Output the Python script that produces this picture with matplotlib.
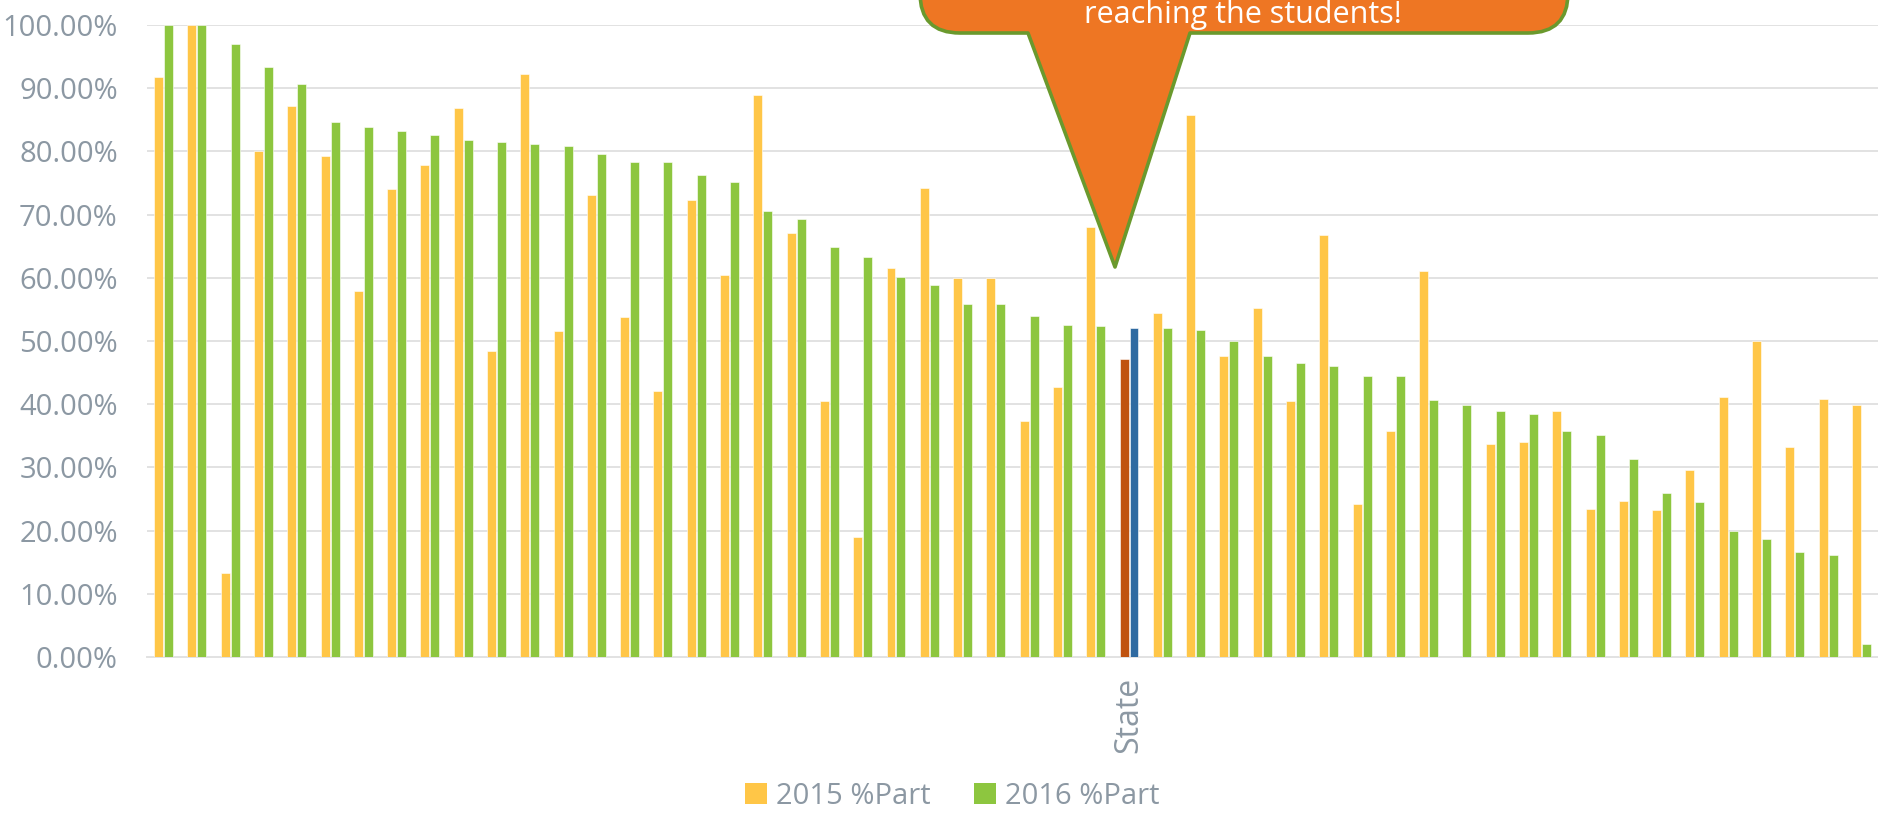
import matplotlib
matplotlib.use("Agg")
import matplotlib.pyplot as plt
from matplotlib.path import Path
from matplotlib.patches import PathPatch, Patch
from matplotlib.ticker import FuncFormatter
import numpy as np

# category labels (only the state average is named)
categories = [""] * 29 + ["State"] + [""] * 22

part_2015 = [91.7, 100, 13.3, 80.1, 87.2, 79.2, 57.9, 74.0, 77.8, 86.9,
             48.4, 92.3, 51.6, 73.1, 53.8, 42.1, 72.3, 60.5, 89.0, 67.1,
             40.5, 19.0, 61.6, 74.2, 60.0, 60.0, 37.4, 42.7, 68.0, 47.2,
             54.5, 85.7, 47.6, 55.3, 40.5, 66.7, 24.2, 35.7, 61.1, 0.0,
             33.7, 34.0, 39.0, 23.4, 24.7, 23.2, 29.6, 41.2, 50.0, 33.3,
             40.8, 39.9]

part_2016 = [100, 100, 97.0, 93.3, 90.6, 84.6, 83.9, 83.3, 82.6, 81.8,
             81.5, 81.2, 80.9, 79.6, 78.3, 78.3, 76.2, 75.1, 70.6, 69.3,
             64.9, 63.3, 60.2, 58.8, 55.9, 55.9, 54.0, 52.6, 52.4, 52.1,
             52.0, 51.8, 50.0, 47.7, 46.5, 46.1, 44.5, 44.4, 40.6, 39.9,
             39.0, 38.4, 35.8, 35.2, 31.4, 25.9, 24.5, 20.0, 18.6, 16.6,
             16.2, 2.1]

series_names = ["2015 %Part", "2016 %Part"]
callout_text = "reaching the students!"

YELLOW = "#FFC647"
GREEN = "#8DC63F"
STATE_2015 = "#C0530F"
STATE_2016 = "#2F6AA1"
GREY_TXT = "#8C98A3"
GRID = "#E2E2E2"

plt.rcParams["font.family"] = ["Open Sans", "DejaVu Sans"]

W, H = 1878, 818
fig = plt.figure(figsize=(W / 100, H / 100), dpi=100)

def fx(x):
    return x / W

def fy(y):
    return 1 - y / H

# plot area in pixels: left 147, right 1878, top 25, bottom 657
ax = fig.add_axes([fx(147), fy(657), fx(W - 147), (657 - 25) / H])

x = np.arange(len(categories))
c15 = [STATE_2015 if c == "State" else YELLOW for c in categories]
c16 = [STATE_2016 if c == "State" else GREEN for c in categories]
v15 = np.array(part_2015) / 100
v16 = np.array(part_2016) / 100

ax.bar(x - 0.15, v15, width=0.27, color=c15, edgecolor="white", linewidth=0.4, zorder=3)
ax.bar(x + 0.15, v16, width=0.27, color=c16, edgecolor="white", linewidth=0.4, zorder=3)

ax.set_xlim(-0.5, len(categories) - 0.5)
ax.set_ylim(0, 1.0)
ax.set_yticks(np.arange(0, 1.01, 0.1))
ax.yaxis.set_major_formatter(FuncFormatter(lambda v, p: f"{v * 100:.2f}%"))
ax.grid(axis="y", color=GRID, linewidth=1.4, zorder=0)
ax.set_axisbelow(True)
for s in ["top", "right", "left"]:
    ax.spines[s].set_visible(False)
ax.spines["bottom"].set_color(GRID)
ax.spines["bottom"].set_linewidth(1.4)
ax.spines["bottom"].set_zorder(0)

ax.set_xticks(x)
ax.set_xticklabels(categories, rotation=90, fontsize=23, color=GREY_TXT)
ax.tick_params(axis="x", length=0, pad=14)
ax.tick_params(axis="y", length=0, pad=21, labelsize=21, labelcolor=GREY_TXT)

handles = [Patch(facecolor=YELLOW), Patch(facecolor=GREEN)]
fig.legend(handles, series_names, loc="center", bbox_to_anchor=(fx(952), fy(796)),
           ncol=2, frameon=False, fontsize=21, labelcolor=GREY_TXT,
           handlelength=0.75, handleheight=0.75, handletextpad=0.3, columnspacing=1.5)

# callout shape (top runs off the canvas)
r = 40
bot = 33
left, right = 920, 1568
pts = [(left, -80), (left, bot - r), (left, bot), (left + r, bot),
       (1028, bot), (1115, 267), (1190, bot), (right - r, bot),
       (right, bot), (right, bot - r), (right, -80), (left, -80)]
codes = [Path.MOVETO, Path.LINETO, Path.CURVE3, Path.CURVE3,
         Path.LINETO, Path.LINETO, Path.LINETO, Path.LINETO,
         Path.CURVE3, Path.CURVE3, Path.LINETO, Path.CLOSEPOLY]
verts = [(fx(a), fy(b)) for a, b in pts]
callout = PathPatch(Path(verts, codes), facecolor="#EE7623", edgecolor="#6A992D",
                    linewidth=2.6, joinstyle="round", transform=fig.transFigure, zorder=10)
fig.patches.append(callout)
fig.text(fx(1243), fy(23), callout_text, color="white", fontsize=22,
         ha="center", va="baseline", zorder=11)

fig.savefig("out.png", dpi=100, facecolor="white")
